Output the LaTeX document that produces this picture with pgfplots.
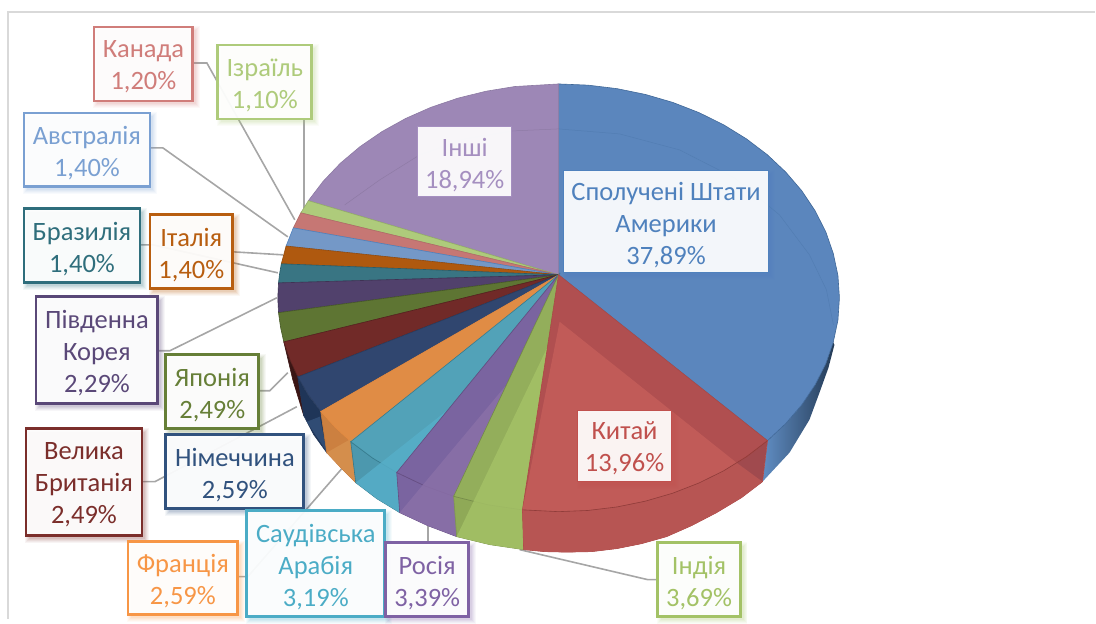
\documentclass[border=0pt]{standalone}
\usepackage{pgfplots}
\pgfplotsset{compat=1.18}
\usepackage{fontspec}
\setmainfont{Carlito}
\definecolor{cUS}{HTML}{4F81BD}\definecolor{cCN}{HTML}{C0504D}\definecolor{cIN}{HTML}{A3C266}
\definecolor{cRU}{HTML}{7F62A4}\definecolor{cSA}{HTML}{4BACC6}\definecolor{cFR}{HTML}{F79646}
\definecolor{cDE}{HTML}{31527E}\definecolor{cGB}{HTML}{7B2E2B}\definecolor{cJP}{HTML}{667F37}
\definecolor{cKR}{HTML}{5A4878}\definecolor{cBR}{HTML}{2F6E7C}\definecolor{cIT}{HTML}{B85E10}
\definecolor{cAU}{HTML}{7AA0D2}\definecolor{cCA}{HTML}{D07D7A}\definecolor{cIL}{HTML}{AECB7B}
\definecolor{cOT}{HTML}{A58FC0}
\definecolor{lead}{HTML}{A6A6A6}
\definecolor{topUS}{HTML}{5B86BD}\definecolor{topOT}{HTML}{9D87B6}
\definecolor{bandCN}{HTML}{B04F50}\definecolor{wallCN}{HTML}{A04A4E}\definecolor{litCN}{HTML}{C45E5A}\definecolor{sideCN}{HTML}{B75553}
\definecolor{bandIN}{HTML}{93AE5B}\definecolor{wallIN}{HTML}{8FA957}\definecolor{litIN}{HTML}{A4C166}
\definecolor{bandRU}{HTML}{7A64A0}\definecolor{wallRU}{HTML}{7A64A0}\definecolor{litRU}{HTML}{8A70A8}
\definecolor{bandSA}{HTML}{52A2B8}\definecolor{wallSA}{HTML}{4C98AE}\definecolor{litSA}{HTML}{56AEC8}
\definecolor{bandFR}{HTML}{E08C45}\definecolor{wallFR}{HTML}{CC8040}\definecolor{litFR}{HTML}{D6914F}
\definecolor{bandDE}{HTML}{30466F}\definecolor{wallDE}{HTML}{1F3558}\definecolor{litDE}{HTML}{34517A}
\newcommand{\slice}[3]{\addplot[fill=#1,draw=#2,line width=0.6pt] coordinates {#3} -- cycle;}
\newcommand{\lit}[2]{\addplot[fill=#1,fill opacity=0.85,draw=none] coordinates {#2} -- cycle;}
% one layer of a soft shadow: colour, grow, opacity, x0,y0,x1,y1
\newcommand{\shd}[7]{\fill[#1,opacity=#3]
  ([xshift=3pt-#2pt,yshift=-3pt+#2pt]axis cs:#4,#5) rectangle ([xshift=3pt+#2pt,yshift=-3pt-#2pt]axis cs:#6,#7);}
\newcommand{\lab}[8]{%
  \shd{#1}{4}{0.05}{#3}{#4}{#5}{#6}\shd{#1}{3}{0.06}{#3}{#4}{#5}{#6}\shd{#1}{2}{0.07}{#3}{#4}{#5}{#6}\shd{#1}{1}{0.08}{#3}{#4}{#5}{#6}\shd{#1}{0}{0.09}{#3}{#4}{#5}{#6}%
  \draw[draw=#1,line width=#2pt,fill=white,fill opacity=0.93]
    (axis cs:#3,#4) rectangle (axis cs:#5,#6);
  \node[text=#1,align=center,inner sep=0pt,font=\fontsize{26.5}{32}\selectfont] at (axis cs:#7) {#8};}
\begin{document}
\begin{tikzpicture}
\begin{axis}[
  scale only axis,width=1096pt,height=619pt,
  xmin=0,xmax=1096,ymin=0,ymax=619,y dir=reverse,
  axis lines=none,clip=false,no markers,
  every axis plot/.append style={forget plot}]
\path (axis cs:0,0) (axis cs:1096,619);
% frame
\addplot[color=black!15,line width=1.5pt] coordinates {(8,619)(8,12)(1096,12)};
% leader lines
\addplot[lead,line width=1.6pt] coordinates {(193,63)(207,63)(295,220)};
\addplot[lead,line width=1.6pt] coordinates {(304,119)(304,208)};
\addplot[lead,line width=1.6pt] coordinates {(150,148)(163,148)(288,237)};
\addplot[lead,line width=1.6pt] coordinates {(140,245)(153,245)(278,273)};
\addplot[lead,line width=1.6pt] coordinates {(233,252)(283,255)};
\addplot[lead,line width=1.6pt] coordinates {(158,351)(170,351)(277,298)};
\addplot[lead,line width=1.6pt] coordinates {(259,391)(270,391)(288,373)};
\addplot[lead,line width=1.6pt] coordinates {(142,482)(155,482)(297,407)};
\addplot[lead,line width=1.6pt] coordinates {(238,577)(248,577)(342,469)};
\addplot[lead,line width=1.6pt] coordinates {(428,543)(428,526)};
\addplot[lead,line width=1.6pt] coordinates {(658,580)(648,580)(520,550)};
% blue wall
\addplot[left color=cUS!90!white,right color=cUS!45!black,draw=none] coordinates {(768,441)(786.3,423.8)(802.4,405)(815.7,385)(826.3,364.1)(833.8,342.5)(835,345)(829,368)(820,393)(810,420)(790,453)(763,482)} -- cycle;
% US
\slice{topUS}{cUS!80!black}{(559,275)(559,84)(588.4,85.2)(617.4,88.7)(645.8,94.5)(673.3,102.5)(699.5,112.7)(724.2,124.9)(747,139)(767.8,154.8)(786.3,172.2)(802.4,191)(815.7,211)(826.3,231.9)(833.8,253.5)(838.5,275.6)(840,298)(838.5,320.4)(833.8,342.5)(826.3,364.1)(815.7,385)(802.4,405)(786.3,423.8)(768,441)}
\addplot[cUS!85!black,line width=0.5pt,opacity=0.35] coordinates {(559,129)(620,134)(680,150)(735,178)(780,215)(810,255)(827,290)(834,325)};
% Others
\slice{topOT}{cOT!85!black}{(559,275)(308.6,200.8)(323.3,181.5)(340.6,163.3)(360.3,146.7)(382.2,131.7)(406,118.5)(431.4,107.3)(458.3,98.2)(486.3,91.3)(515,86.6)(559,84)}
\addplot[cOT!70!black,line width=0.5pt,opacity=0.35] coordinates {(559,129)(513,131)(465,139)(420,155)(380,180)(345,205)};
% small back slices
\slice{cIL}{cIL!85!black}{(559,275)(301,213)(308.6,200.8)}
\slice{cCA!95!black}{cCA!85!black}{(559,275)(293.5,228)(301,213)}
\slice{cAU!95!black}{cUS}{(559,275)(286.3,246.2)(293.5,228)}
\slice{cIT!95!black}{cIT!80!black}{(559,275)(281.5,264)(286.3,246.2)}
\slice{cBR!95!white}{cBR!85!black}{(559,275)(278.7,283.1)(279.8,273.8)(281.5,264)}
\slice{cKR!90!black}{cKR!70!black}{(559,275)(278.7,312.9)(278,298)(278.7,283.1)}
\slice{cJP!92!black}{cJP!70!black}{(559,275)(284,342.1)(280.8,327.8)(278.7,312.9)}
% maroon
\slice{cGB!48!black}{cGB!50!black}{(284,342)(290,360)(298,377)(304,416)(293,380)}
\slice{cGB!92!black}{cGB!70!black}{(559,275)(298,377.2)(290,359.8)(284,342.1)}
% navy
\slice{wallDE}{wallDE}{(298,377)(304,416)(314,435)(327,453)(321,412)(308,395)}
\lit{litDE}{(307,422)(320,417)(327,452)}
\slice{bandDE}{bandDE!85!black}{(559,275)(321,411.7)(308.4,394.8)(298,377.2)}
% orange
\slice{wallFR}{cFR!80!black}{(321,412)(327,453)(341,468)(356,483)(351,442)(335,427)}
\slice{bandFR}{cFR!92!black}{(559,275)(351,442)(335.2,427.4)(321,411.7)}
\lit{litFR}{(362,433)(327,453)(341,468)(356,483)(351,442)}
% teal
\slice{wallSA}{cSA!70!black}{(351,442)(356,483)(377,499)(400,513)(397,472.8)(372.8,458.3)}
\slice{bandSA}{cSA!72!black}{(559,275)(397,472.8)(372.8,458.3)(351,442)}
\lit{litSA}{(447,411)(356,483)(377,499)(400,513)(397,472.8)}
% purple
\slice{wallRU}{cRU!80!black}{(397,472.8)(400,513)(428,526)(457,537)(454,496.6)(425,486.1)}
\slice{bandRU}{cRU!80!black}{(559,275)(454,496.6)(425,486.1)(397,472.8)}
\lit{litRU}{(506,386)(400,513)(428,526)(457,537)(454,496.6)}
% green
\slice{wallIN}{cIN!78!black}{(454,496.6)(457,537)(490,545)(524,550)(522.8,510.2)(488.2,505.1)}
\slice{bandIN}{cIN!72!black}{(559,275)(522.8,510.2)(488.2,505.1)(454,496.6)}
\lit{litIN}{(548,347)(457,537)(490,545)(524,550)(522.8,510.2)}
% red
\slice{wallCN}{cCN!90!black}{(522.8,510.2)(524,550)(545,552)(567,552.5)(592,552)(617,549)(642,544)(667,537)(692,526)(717,513)(742,498)(763,482)(768,441)(747,457)(724.2,471.1)(699.5,483.3)(673.3,493.5)(645.8,501.5)(617.4,507.3)(588.4,510.8)(559,512)}
\slice{bandCN}{cCN!90!black}{(559,275)(768,441)(747,457)(724.2,471.1)(699.5,483.3)(673.3,493.5)(645.8,501.5)(617.4,507.3)(588.4,510.8)(559,512)(522.8,510.2)}
\lit{litCN}{(560,322)(737,463)(724.2,471.1)(699.5,483.3)(673.3,493.5)(645.8,501.5)(617.4,507.3)(588.4,510.8)(559,512)(522.8,510.2)}
\addplot[fill=sideCN,draw=none] coordinates {(737,463)(763,482)(742,498)(717,513)(692,526)(667,537)(642,544)(617,549)(592,552)(567,552.5)(545,552)(524,550)(522.8,510.2)(559,512)(588.4,510.8)(617.4,507.3)(645.8,501.5)(673.3,493.5)(699.5,483.3)(724.2,471.1)} -- cycle;
\addplot[cCN!75!black,line width=0.6pt] coordinates {(768,441)(747,457)(724.2,471.1)(699.5,483.3)(673.3,493.5)(645.8,501.5)(617.4,507.3)(588.4,510.8)(559,512)(522.8,510.2)};
% labels
\lab{cCA}{2.8}{94}{27}{193}{101}{143.5,67}{Канада\\1,20\%}
\lab{cIL}{2.8}{218}{45}{312}{119}{265,85}{Ізраїль\\1,10\%}
\lab{cAU}{2.8}{24}{113}{150}{187}{87,153}{Австралія\\1,40\%}
\lab{cBR}{2.8}{24}{209}{140}{283}{82,249}{Бразилія\\1,40\%}
\lab{cIT}{2.8}{150}{215}{233}{289}{191.5,255}{Італія\\1,40\%}
\lab{cKR}{2.8}{36}{297}{158}{404}{97,353}{Південна\\Корея\\2,29\%}
\lab{cJP}{2.8}{166}{355}{259}{429}{212.5,395}{Японія\\2,49\%}
\lab{cGB}{2.8}{26}{429}{142}{536}{84,485}{Велика\\Британія\\2,49\%}
\lab{cDE}{2.8}{166}{435}{304}{509}{235,475}{Німеччина\\2,59\%}
\lab{cFR}{2.8}{128}{542}{238}{615}{183,581}{Франція\\2,59\%}
\lab{cSA}{2.8}{247}{511}{385}{617}{316,567}{Саудівська\\Арабія\\3,19\%}
\lab{cRU}{2.8}{386}{543}{469}{617}{427.5,583}{Росія\\3,39\%}
\lab{cIN}{2.8}{658}{543}{741}{617}{699.5,583}{Індія\\3,69\%}
\lab{cCN}{1}{578}{411}{672}{482}{625,449}{Китай\\13,96\%}
\lab{cUS}{1}{564}{171}{769}{273}{666.5,225}{Сполучені Штати\\Америки\\37,89\%}
\lab{cOT}{1}{418}{127}{512}{197}{465,165}{Інші\\18,94\%}
\end{axis}
\end{tikzpicture}
\end{document}
